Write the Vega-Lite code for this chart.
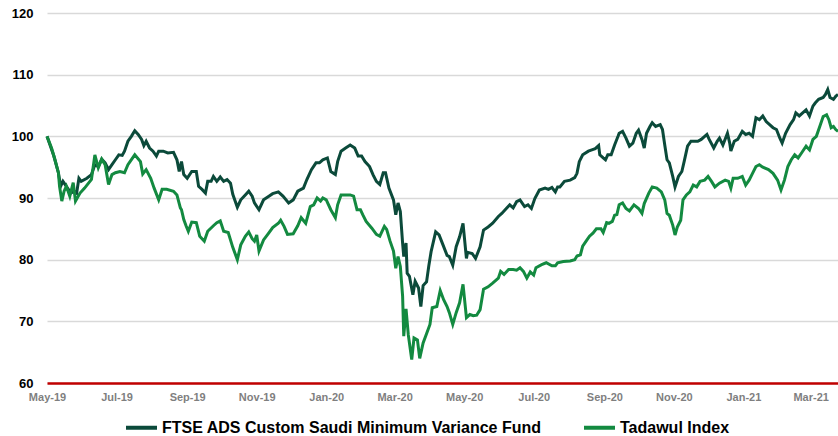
{
  "$schema": "https://vega.github.io/schema/vega-lite/v6.json",
  "width": 791,
  "height": 370,
  "autosize": {"type": "none"},
  "padding": {"left": 47, "top": 13, "right": 0, "bottom": 53},
  "background": "white",
  "config": {
    "view": {"stroke": null},
    "font": "Liberation Sans"
  },
  "datasets": {
    "fund": [
      {"date":"2019-05-01","value":100},{"date":"2019-05-07","value":96.8},{"date":"2019-05-11","value":94.1},{"date":"2019-05-13","value":91.9},{"date":"2019-05-15","value":92.7},{"date":"2019-05-18","value":91.9},{"date":"2019-05-22","value":90.8},{"date":"2019-05-25","value":91.1},{"date":"2019-05-27","value":90.8},{"date":"2019-05-29","value":93.2},{"date":"2019-05-31","value":92.7},
      {"date":"2019-06-05","value":93.2},{"date":"2019-06-09","value":93.8},{"date":"2019-06-12","value":95.4},{"date":"2019-06-15","value":95.1},{"date":"2019-06-18","value":96.3},{"date":"2019-06-21","value":95.7},{"date":"2019-06-24","value":94.6},{"date":"2019-06-27","value":95.4},{"date":"2019-06-30","value":96.2},
      {"date":"2019-07-03","value":97.0},{"date":"2019-07-06","value":96.9},{"date":"2019-07-08","value":97.6},{"date":"2019-07-11","value":99.2},{"date":"2019-07-14","value":100},{"date":"2019-07-17","value":100.9},{"date":"2019-07-20","value":100.3},{"date":"2019-07-23","value":99.5},{"date":"2019-07-25","value":98.5},{"date":"2019-07-27","value":99.2},{"date":"2019-07-30","value":98.1},
      {"date":"2019-08-02","value":97.6},{"date":"2019-08-05","value":96.8},{"date":"2019-08-07","value":97.6},{"date":"2019-08-11","value":97.6},{"date":"2019-08-15","value":97.3},{"date":"2019-08-20","value":97.4},{"date":"2019-08-23","value":96.2},{"date":"2019-08-25","value":94.3},{"date":"2019-08-27","value":95.9},{"date":"2019-08-29","value":93.8},
      {"date":"2019-09-01","value":93.2},{"date":"2019-09-05","value":94.3},{"date":"2019-09-09","value":94.3},{"date":"2019-09-11","value":91.9},{"date":"2019-09-14","value":91.4},{"date":"2019-09-17","value":90.8},{"date":"2019-09-19","value":92.7},{"date":"2019-09-22","value":92.7},{"date":"2019-09-24","value":93.5},{"date":"2019-09-27","value":92.7},{"date":"2019-09-30","value":93.4},
      {"date":"2019-10-03","value":92.7},{"date":"2019-10-06","value":93.0},{"date":"2019-10-09","value":92.4},{"date":"2019-10-11","value":90.6},{"date":"2019-10-15","value":88.5},{"date":"2019-10-18","value":89.7},{"date":"2019-10-22","value":90.5},{"date":"2019-10-25","value":91.1},{"date":"2019-10-28","value":90.3},{"date":"2019-10-30","value":89.2},
      {"date":"2019-11-03","value":88.1},{"date":"2019-11-07","value":89.7},{"date":"2019-11-11","value":90.2},{"date":"2019-11-15","value":90.7},{"date":"2019-11-20","value":91.0},{"date":"2019-11-24","value":90.3},{"date":"2019-11-29","value":89.2},
      {"date":"2019-12-03","value":89.7},{"date":"2019-12-07","value":91.1},{"date":"2019-12-12","value":91.6},{"date":"2019-12-15","value":93.0},{"date":"2019-12-19","value":94.6},{"date":"2019-12-23","value":95.7},{"date":"2019-12-26","value":95.7},{"date":"2019-12-29","value":96.2},
      {"date":"2020-01-02","value":96.5},{"date":"2020-01-05","value":94.3},{"date":"2020-01-09","value":93.8},{"date":"2020-01-11","value":95.9},{"date":"2020-01-14","value":97.6},{"date":"2020-01-18","value":98.1},{"date":"2020-01-22","value":98.6},{"date":"2020-01-26","value":98.1},{"date":"2020-01-29","value":96.8},
      {"date":"2020-02-01","value":96.8},{"date":"2020-02-04","value":95.9},{"date":"2020-02-08","value":95.1},{"date":"2020-02-11","value":93.8},{"date":"2020-02-14","value":92.7},{"date":"2020-02-17","value":92.2},{"date":"2020-02-20","value":94.1},{"date":"2020-02-22","value":94.1},{"date":"2020-02-25","value":91.6},{"date":"2020-02-29","value":89.7},
      {"date":"2020-03-02","value":87.3},{"date":"2020-03-04","value":89.2},{"date":"2020-03-06","value":87.8},{"date":"2020-03-08","value":82.7},{"date":"2020-03-09","value":80.5},{"date":"2020-03-11","value":82.7},{"date":"2020-03-12","value":77.8},{"date":"2020-03-14","value":77.3},{"date":"2020-03-17","value":74.3},{"date":"2020-03-19","value":76.5},{"date":"2020-03-22","value":75.4},{"date":"2020-03-24","value":72.4},{"date":"2020-03-26","value":75.8},{"date":"2020-03-29","value":76.4},{"date":"2020-03-31","value":79.0},
      {"date":"2020-04-02","value":81.3},{"date":"2020-04-06","value":84.5},{"date":"2020-04-09","value":84.0},{"date":"2020-04-12","value":82.6},{"date":"2020-04-16","value":80.7},{"date":"2020-04-18","value":80.5},{"date":"2020-04-21","value":79.1},{"date":"2020-04-24","value":82.1},{"date":"2020-04-27","value":83.7},{"date":"2020-04-30","value":85.9},
      {"date":"2020-05-03","value":80.2},{"date":"2020-05-04","value":81.2},{"date":"2020-05-08","value":81.0},{"date":"2020-05-11","value":80.2},{"date":"2020-05-15","value":82.1},{"date":"2020-05-18","value":84.8},{"date":"2020-05-22","value":85.3},{"date":"2020-05-26","value":85.9},{"date":"2020-05-31","value":87.0},
      {"date":"2020-06-03","value":87.5},{"date":"2020-06-07","value":88.3},{"date":"2020-06-10","value":88.9},{"date":"2020-06-13","value":88.4},{"date":"2020-06-16","value":89.4},{"date":"2020-06-19","value":89.7},{"date":"2020-06-23","value":88.6},{"date":"2020-06-26","value":88.9},{"date":"2020-06-29","value":88.3},
      {"date":"2020-07-02","value":89.9},{"date":"2020-07-06","value":91.3},{"date":"2020-07-11","value":91.6},{"date":"2020-07-14","value":91.4},{"date":"2020-07-17","value":91.7},{"date":"2020-07-20","value":91.0},{"date":"2020-07-22","value":91.8},{"date":"2020-07-24","value":91.8},{"date":"2020-07-28","value":92.7},
      {"date":"2020-08-02","value":92.9},{"date":"2020-08-06","value":93.3},{"date":"2020-08-08","value":94.0},{"date":"2020-08-10","value":95.9},{"date":"2020-08-13","value":97.0},{"date":"2020-08-18","value":97.6},{"date":"2020-08-21","value":97.8},{"date":"2020-08-24","value":98.0},{"date":"2020-08-27","value":98.5},{"date":"2020-08-28","value":97.0},{"date":"2020-08-31","value":96.5},
      {"date":"2020-09-02","value":96.2},{"date":"2020-09-04","value":97.0},{"date":"2020-09-07","value":97.0},{"date":"2020-09-10","value":98.6},{"date":"2020-09-13","value":100.0},{"date":"2020-09-14","value":100.5},{"date":"2020-09-17","value":100.8},{"date":"2020-09-20","value":99.7},{"date":"2020-09-23","value":98.4},{"date":"2020-09-26","value":98.9},{"date":"2020-09-29","value":100.5},
      {"date":"2020-10-01","value":101.0},{"date":"2020-10-04","value":99.5},{"date":"2020-10-06","value":98.1},{"date":"2020-10-08","value":100.5},{"date":"2020-10-11","value":101.6},{"date":"2020-10-13","value":102.2},{"date":"2020-10-16","value":101.6},{"date":"2020-10-20","value":101.9},{"date":"2020-10-22","value":101.1},{"date":"2020-10-24","value":98.6},{"date":"2020-10-26","value":96.2},{"date":"2020-10-28","value":95.7},{"date":"2020-10-31","value":93.5},
      {"date":"2020-11-02","value":91.8},{"date":"2020-11-05","value":93.5},{"date":"2020-11-08","value":94.3},{"date":"2020-11-10","value":95.9},{"date":"2020-11-13","value":98.4},{"date":"2020-11-16","value":99.2},{"date":"2020-11-19","value":99.2},{"date":"2020-11-22","value":99.2},{"date":"2020-11-25","value":99.5},{"date":"2020-11-30","value":100.3},
      {"date":"2020-12-02","value":99.5},{"date":"2020-12-06","value":98.1},{"date":"2020-12-09","value":99.2},{"date":"2020-12-11","value":99.7},{"date":"2020-12-14","value":98.6},{"date":"2020-12-18","value":100.5},{"date":"2020-12-20","value":98.9},{"date":"2020-12-21","value":97.6},{"date":"2020-12-24","value":99.2},{"date":"2020-12-27","value":99.5},{"date":"2020-12-31","value":100.8},
      {"date":"2021-01-03","value":100.3},{"date":"2021-01-06","value":100.5},{"date":"2021-01-09","value":100.0},{"date":"2021-01-12","value":103.0},{"date":"2021-01-15","value":102.7},{"date":"2021-01-18","value":103.3},{"date":"2021-01-21","value":102.4},{"date":"2021-01-24","value":101.9},{"date":"2021-01-27","value":101.4},{"date":"2021-01-30","value":101.1},
      {"date":"2021-02-02","value":99.7},{"date":"2021-02-04","value":98.9},{"date":"2021-02-07","value":100.5},{"date":"2021-02-11","value":101.9},{"date":"2021-02-14","value":102.7},{"date":"2021-02-16","value":103.8},{"date":"2021-02-19","value":103.3},{"date":"2021-02-22","value":103.8},{"date":"2021-02-25","value":104.3},{"date":"2021-02-28","value":103.3},
      {"date":"2021-03-03","value":104.9},{"date":"2021-03-05","value":105.4},{"date":"2021-03-08","value":106.0},{"date":"2021-03-12","value":106.3},{"date":"2021-03-14","value":106.8},{"date":"2021-03-16","value":107.6},{"date":"2021-03-18","value":106.3},{"date":"2021-03-21","value":106.0},{"date":"2021-03-23","value":106.5},{"date":"2021-03-25","value":106.8}
    ],
    "index": [
      {"date":"2019-05-01","value":100},{"date":"2019-05-05","value":98.1},{"date":"2019-05-08","value":96.2},{"date":"2019-05-11","value":94.1},{"date":"2019-05-12","value":91.9},{"date":"2019-05-14","value":89.5},{"date":"2019-05-16","value":91.1},{"date":"2019-05-18","value":91.9},{"date":"2019-05-21","value":90.3},{"date":"2019-05-24","value":92.5},{"date":"2019-05-26","value":89.5},{"date":"2019-05-30","value":90.8},
      {"date":"2019-06-03","value":91.6},{"date":"2019-06-09","value":93.0},{"date":"2019-06-12","value":97.0},{"date":"2019-06-15","value":94.9},{"date":"2019-06-18","value":96.3},{"date":"2019-06-21","value":95.4},{"date":"2019-06-24","value":92.2},{"date":"2019-06-27","value":93.8},{"date":"2019-06-30","value":94.1},
      {"date":"2019-07-04","value":94.3},{"date":"2019-07-08","value":94.1},{"date":"2019-07-11","value":95.4},{"date":"2019-07-17","value":97.0},{"date":"2019-07-22","value":95.9},{"date":"2019-07-24","value":93.9},{"date":"2019-07-27","value":94.6},{"date":"2019-07-31","value":93.2},
      {"date":"2019-08-03","value":91.6},{"date":"2019-08-07","value":89.7},{"date":"2019-08-10","value":91.4},{"date":"2019-08-14","value":91.4},{"date":"2019-08-20","value":91.1},{"date":"2019-08-23","value":90.5},{"date":"2019-08-26","value":88.4},{"date":"2019-08-27","value":88.1},{"date":"2019-08-29","value":86.5},{"date":"2019-08-31","value":85.5},
      {"date":"2019-09-02","value":84.6},{"date":"2019-09-05","value":86.1},{"date":"2019-09-09","value":86.0},{"date":"2019-09-12","value":83.8},{"date":"2019-09-16","value":83.0},{"date":"2019-09-19","value":84.6},{"date":"2019-09-24","value":85.5},{"date":"2019-09-27","value":86.0},{"date":"2019-09-30","value":86.3},
      {"date":"2019-10-03","value":84.6},{"date":"2019-10-07","value":84.4},{"date":"2019-10-11","value":82.0},{"date":"2019-10-15","value":80.0},{"date":"2019-10-18","value":82.4},{"date":"2019-10-22","value":83.8},{"date":"2019-10-25","value":84.5},{"date":"2019-10-28","value":83.4},{"date":"2019-10-30","value":83.0},
      {"date":"2019-11-01","value":84.0},{"date":"2019-11-03","value":81.4},{"date":"2019-11-07","value":83.2},{"date":"2019-11-11","value":84.2},{"date":"2019-11-15","value":85.2},{"date":"2019-11-20","value":85.9},{"date":"2019-11-22","value":86.4},{"date":"2019-11-25","value":85.4},{"date":"2019-11-28","value":84.1},
      {"date":"2019-12-03","value":84.2},{"date":"2019-12-07","value":85.5},{"date":"2019-12-10","value":86.8},{"date":"2019-12-14","value":85.9},{"date":"2019-12-18","value":88.6},{"date":"2019-12-21","value":88.9},{"date":"2019-12-24","value":90.0},{"date":"2019-12-27","value":89.5},{"date":"2019-12-29","value":90.0},
      {"date":"2020-01-01","value":89.7},{"date":"2020-01-05","value":88.1},{"date":"2020-01-09","value":86.8},{"date":"2020-01-11","value":88.9},{"date":"2020-01-14","value":90.5},{"date":"2020-01-18","value":90.5},{"date":"2020-01-22","value":90.5},{"date":"2020-01-25","value":90.3},{"date":"2020-01-28","value":88.1},{"date":"2020-01-31","value":88.1},
      {"date":"2020-02-02","value":87.3},{"date":"2020-02-05","value":86.2},{"date":"2020-02-10","value":85.1},{"date":"2020-02-14","value":84.1},{"date":"2020-02-17","value":83.8},{"date":"2020-02-21","value":85.4},{"date":"2020-02-23","value":84.9},{"date":"2020-02-26","value":83.0},{"date":"2020-02-29","value":81.4},
      {"date":"2020-03-02","value":78.6},{"date":"2020-03-04","value":80.5},{"date":"2020-03-06","value":78.9},{"date":"2020-03-08","value":74.1},{"date":"2020-03-09","value":67.6},{"date":"2020-03-11","value":72.0},{"date":"2020-03-13","value":67.8},{"date":"2020-03-16","value":63.8},{"date":"2020-03-18","value":67.3},{"date":"2020-03-21","value":67.0},{"date":"2020-03-23","value":64.0},{"date":"2020-03-26","value":66.5},{"date":"2020-03-29","value":68.0},
      {"date":"2020-04-01","value":69.5},{"date":"2020-04-03","value":72.2},{"date":"2020-04-07","value":72.4},{"date":"2020-04-10","value":75.0},{"date":"2020-04-13","value":73.5},{"date":"2020-04-16","value":72.4},{"date":"2020-04-18","value":71.4},{"date":"2020-04-21","value":69.5},{"date":"2020-04-24","value":71.4},{"date":"2020-04-27","value":73.0},{"date":"2020-04-30","value":76.0},
      {"date":"2020-05-03","value":70.6},{"date":"2020-05-06","value":71.1},{"date":"2020-05-09","value":70.9},{"date":"2020-05-12","value":71.0},{"date":"2020-05-15","value":71.9},{"date":"2020-05-18","value":75.2},{"date":"2020-05-22","value":75.6},{"date":"2020-05-26","value":76.2},{"date":"2020-05-31","value":77.0},
      {"date":"2020-06-02","value":78.1},{"date":"2020-06-05","value":77.6},{"date":"2020-06-09","value":78.4},{"date":"2020-06-13","value":78.4},{"date":"2020-06-16","value":78.3},{"date":"2020-06-19","value":78.7},{"date":"2020-06-22","value":78.1},{"date":"2020-06-25","value":77.0},{"date":"2020-06-28","value":78.0},
      {"date":"2020-07-01","value":77.5},{"date":"2020-07-03","value":78.7},{"date":"2020-07-08","value":79.2},{"date":"2020-07-12","value":79.5},{"date":"2020-07-17","value":79.0},{"date":"2020-07-20","value":79.0},{"date":"2020-07-22","value":79.5},{"date":"2020-07-27","value":79.7},
      {"date":"2020-08-02","value":79.8},{"date":"2020-08-06","value":80.0},{"date":"2020-08-08","value":80.6},{"date":"2020-08-11","value":80.8},{"date":"2020-08-13","value":82.2},{"date":"2020-08-16","value":83.0},{"date":"2020-08-19","value":83.8},{"date":"2020-08-22","value":84.3},{"date":"2020-08-25","value":85.0},{"date":"2020-08-29","value":85.0},{"date":"2020-08-31","value":84.4},
      {"date":"2020-09-03","value":86.0},{"date":"2020-09-05","value":85.9},{"date":"2020-09-08","value":86.2},{"date":"2020-09-10","value":87.2},{"date":"2020-09-12","value":87.3},{"date":"2020-09-14","value":88.9},{"date":"2020-09-17","value":89.2},{"date":"2020-09-20","value":88.3},{"date":"2020-09-23","value":87.9},{"date":"2020-09-27","value":88.9},
      {"date":"2020-10-01","value":88.3},{"date":"2020-10-04","value":87.5},{"date":"2020-10-06","value":89.1},{"date":"2020-10-10","value":90.8},{"date":"2020-10-13","value":91.8},{"date":"2020-10-17","value":91.6},{"date":"2020-10-21","value":91.0},{"date":"2020-10-24","value":89.7},{"date":"2020-10-26","value":87.5},{"date":"2020-10-28","value":87.2},{"date":"2020-10-31","value":85.6},
      {"date":"2020-11-02","value":84.0},{"date":"2020-11-04","value":85.3},{"date":"2020-11-07","value":86.4},{"date":"2020-11-09","value":89.7},{"date":"2020-11-12","value":90.5},{"date":"2020-11-15","value":91.0},{"date":"2020-11-18","value":92.1},{"date":"2020-11-21","value":91.8},{"date":"2020-11-24","value":92.7},{"date":"2020-11-28","value":92.9},
      {"date":"2020-12-01","value":93.5},{"date":"2020-12-04","value":92.7},{"date":"2020-12-07","value":91.8},{"date":"2020-12-11","value":92.4},{"date":"2020-12-16","value":92.9},{"date":"2020-12-19","value":92.7},{"date":"2020-12-21","value":91.6},{"date":"2020-12-23","value":93.2},{"date":"2020-12-27","value":93.2},{"date":"2020-12-31","value":93.5},
      {"date":"2021-01-03","value":92.1},{"date":"2021-01-06","value":92.9},{"date":"2021-01-09","value":94.0},{"date":"2021-01-12","value":95.1},{"date":"2021-01-15","value":95.4},{"date":"2021-01-18","value":95.0},{"date":"2021-01-23","value":94.6},{"date":"2021-01-27","value":94.0},{"date":"2021-01-31","value":92.9},
      {"date":"2021-02-03","value":91.3},{"date":"2021-02-06","value":92.9},{"date":"2021-02-09","value":95.1},{"date":"2021-02-12","value":96.2},{"date":"2021-02-15","value":97.0},{"date":"2021-02-18","value":96.5},{"date":"2021-02-21","value":97.3},{"date":"2021-02-25","value":98.4},{"date":"2021-02-28","value":97.8},
      {"date":"2021-03-03","value":99.5},{"date":"2021-03-06","value":100.0},{"date":"2021-03-09","value":101.6},{"date":"2021-03-12","value":103.2},{"date":"2021-03-15","value":103.5},{"date":"2021-03-17","value":102.7},{"date":"2021-03-19","value":101.4},{"date":"2021-03-21","value":101.6},{"date":"2021-03-23","value":101.1},{"date":"2021-03-25","value":100.8}
    ]
  },
  "encoding": {
    "x": {
      "field": "date",
      "type": "temporal",
      "title": null,
      "scale": {
        "type": "utc",
        "domain": ["2019-05-01", "2021-03-25"]
      },
      "axis": {
        "labelExpr": "utcFormat(datum.value, '%b-%y')",
        "tickCount": {"interval": "month", "step": 2},
        "grid": false,
        "ticks": false,
        "domainColor": "#C00000",
        "domainWidth": 2.5,
        "labelColor": "#7F7F7F",
        "labelFontWeight": "bold",
        "labelFontSize": 11,
        "labelPadding": 8,
        "labelFlush": false,
        "labelOverlap": false
      }
    },
    "y": {
      "field": "value",
      "type": "quantitative",
      "title": null,
      "scale": {"domain": [60, 120], "nice": false, "zero": false},
      "axis": {
        "values": [60, 70, 80, 90, 100, 110, 120],
        "domain": false,
        "ticks": false,
        "gridColor": "#D9D9D9",
        "gridWidth": 1.5,
        "labelColor": "#000000",
        "labelFontWeight": "bold",
        "labelFontSize": 13,
        "labelPadding": 14
      }
    }
  },
  "layer": [
    {
      "data": {"name": "fund"},
      "mark": {"type": "line", "strokeWidth": 3},
      "encoding": {
        "color": {
          "datum": "FTSE ADS Custom Saudi Minimum Variance Fund",
          "type": "nominal",
          "scale": {
            "domain": ["FTSE ADS Custom Saudi Minimum Variance Fund", "Tadawul Index"],
            "range": ["#0B4A3A", "#138A40"]
          },
          "legend": {
            "title": null,
            "orient": "none",
            "direction": "horizontal",
            "legendX": 77,
            "legendY": 397,
            "padding": 0,
            "symbolType": "stroke",
            "symbolSize": 961,
            "symbolStrokeWidth": 4,
            "labelFontSize": 16,
            "labelFontWeight": "bold",
            "labelColor": "#000000",
            "labelOffset": 3,
            "columnPadding": 34,
            "labelLimit": 500
          }
        }
      }
    },
    {
      "data": {"name": "index"},
      "mark": {"type": "line", "strokeWidth": 3},
      "encoding": {
        "color": {"datum": "Tadawul Index", "type": "nominal"}
      }
    }
  ]
}
